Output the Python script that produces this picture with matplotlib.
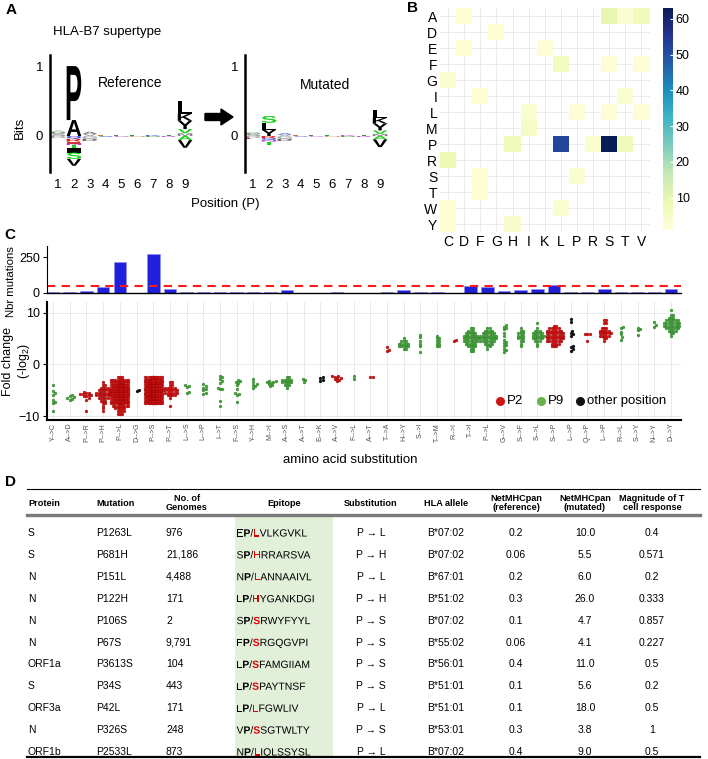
import numpy as np
import matplotlib
matplotlib.use('Agg')
import matplotlib.pyplot as plt
import matplotlib.transforms as mtrans
from matplotlib.textpath import TextPath
from matplotlib.patches import PathPatch, Rectangle, FancyArrow
from matplotlib.font_manager import FontProperties

plt.rcParams['font.family'] = ['Liberation Sans', 'DejaVu Sans']
plt.rcParams['mathtext.fontset'] = 'custom'
plt.rcParams['mathtext.rm'] = 'Liberation Sans'

W, H = 708, 759

# ---------------- panel A: sequence logos (letter, colour, bits) ----------------
logo_pos = list(range(1, 10))
ref_up = [
    [('S', '#8c8c8c', 0.04), ('G', '#3c8c3c', 0.02), ('A', '#b0b0b0', 0.02)],
    [('A', '#000000', 0.23), ('P', '#000000', 0.78)],
    [('V', '#9a9a9a', 0.03), ('A', '#707070', 0.03)],
    [('L', '#c08030', 0.015)], [('L', '#707070', 0.012)], [('E', '#3c8c3c', 0.012)],
    [('K', '#3050c0', 0.012)], [('T', '#3c8c3c', 0.015)],
    [('M', '#888888', 0.04), ('V', '#19d219', 0.06), ('Y', '#000000', 0.12),
     ('K', '#000000', 0.10), ('L', '#000000', 0.18)],
]
ref_down = [
    [('D', '#a0a0a0', 0.03)],
    [('Q', '#2030d0', 0.04), ('R', '#e02020', 0.04), ('E', '#d03030', 0.03), ('N', '#b040c0', 0.02),
     ('T', '#19d219', 0.04), ('I', '#000000', 0.07), ('S', '#19d219', 0.09), ('V', '#000000', 0.10)],
    [('G', '#a0a0a0', 0.04), ('D', '#606060', 0.03)],
    [('S', '#3050c0', 0.012)], [('G', '#b040c0', 0.012)], [('N', '#c08030', 0.01)],
    [('D', '#3c8c3c', 0.012)], [('R', '#b040c0', 0.012)],
    [('A', '#19d219', 0.06), ('V', '#000000', 0.11)],
]
mut_up = [
    [('S', '#8c8c8c', 0.03), ('G', '#3c8c3c', 0.02)],
    [('Y', '#000000', 0.09), ('L', '#000000', 0.10), ('S', '#19d219', 0.10)],
    [('V', '#9a9a9a', 0.02), ('A', '#3050c0', 0.02)],
    [('L', '#c08030', 0.012)], [('L', '#707070', 0.01)], [('E', '#3c8c3c', 0.01)],
    [('K', '#b040c0', 0.012)], [('T', '#3c8c3c', 0.012)],
    [('M', '#888888', 0.03), ('V', '#19d219', 0.05), ('Y', '#000000', 0.10),
     ('K', '#000000', 0.08), ('L', '#000000', 0.12)],
]
mut_down = [
    [('D', '#a0a0a0', 0.03), ('E', '#d03030', 0.01)],
    [('R', '#e02020', 0.03), ('Q', '#2030d0', 0.03), ('N', '#b040c0', 0.02), ('T', '#19d219', 0.05)],
    [('G', '#a0a0a0', 0.04), ('D', '#606060', 0.03)],
    [('S', '#3050c0', 0.01)], [('G', '#b040c0', 0.01)], [('N', '#c08030', 0.01)],
    [('D', '#3c8c3c', 0.012)], [('R', '#b040c0', 0.012)],
    [('A', '#19d219', 0.05), ('V', '#000000', 0.11)],
]

# ---------------- panel B: substitution counts ----------------
heat_from = ['A', 'D', 'E', 'F', 'G', 'I', 'L', 'M', 'P', 'R', 'S', 'T', 'W', 'Y']
heat_to = ['C', 'D', 'F', 'G', 'H', 'I', 'K', 'L', 'P', 'R', 'S', 'T', 'V']
heat_cells = [('A', 'D', 2), ('A', 'S', 10), ('A', 'T', 3), ('A', 'V', 7), ('D', 'G', 2),
              ('E', 'D', 2), ('E', 'K', 2), ('F', 'L', 6), ('F', 'S', 2), ('F', 'V', 2),
              ('G', 'C', 3), ('I', 'F', 2), ('I', 'T', 3), ('L', 'I', 3), ('L', 'P', 2),
              ('L', 'S', 2), ('L', 'V', 2), ('M', 'I', 5), ('P', 'H', 7), ('P', 'L', 52),
              ('P', 'R', 3), ('P', 'S', 63), ('P', 'T', 7), ('R', 'C', 8), ('S', 'F', 2),
              ('S', 'P', 3), ('T', 'F', 2), ('W', 'C', 2), ('W', 'L', 3), ('Y', 'C', 2), ('Y', 'H', 4)]

# ---------------- panel C: substitutions ----------------
subst = ['Y-->C', 'A-->D', 'P-->R', 'P-->H', 'P-->L', 'D-->G', 'P-->S', 'P-->T', 'L-->S', 'L-->P',
         'I-->T', 'F-->S', 'Y-->H', 'M-->I', 'A-->S', 'A-->T', 'E-->K', 'A-->V', 'F-->L', 'A-->T',
         'T-->A', 'H-->Y', 'S-->I', 'T-->M', 'R-->I', 'T-->I', 'P-->L', 'G-->V', 'S-->F', 'S-->L',
         'S-->P', 'L-->P', 'Q-->P', 'L-->P', 'R-->L', 'S-->Y', 'N-->Y', 'D-->Y']
n_mut = [2, 2, 12, 40, 214, 1, 273, 28, 2, 4, 4, 4, 2, 2, 16, 1, 1, 3, 1, 1,
         2, 16, 5, 8, 1, 45, 42, 14, 16, 26, 52, 5, 2, 26, 2, 2, 2, 26]
threshold = 50
dot_group = ['P9', 'P9', 'P2', 'P2', 'P2', 'other', 'P2', 'P2', 'P9', 'P9',
             'P9', 'P9', 'P9', 'P9', 'P9', 'P9', 'other', 'P2', 'P9', 'P2',
             'P2', 'P9', 'P9', 'P9', 'P2', 'P9', 'P9', 'P9', 'P9', 'P9',
             'P2', 'other', 'P2', 'P2', 'P9', 'P9', 'P9', 'P9']
# fold change values as (value, how many peptides)
dot_points = [
    [(-4.0, 1), (-5.2, 1), (-5.6, 1), (-6.0, 1), (-6.8, 1), (-7.2, 1), (-7.5, 1), (-9.0, 1)],
    [(-5.9, 1), (-6.2, 1), (-6.4, 1), (-6.5, 1), (-6.6, 1), (-6.8, 1)],
    [(-5.3, 1), (-5.5, 2), (-5.8, 2), (-6.0, 2), (-6.2, 2), (-6.5, 1), (-6.8, 1), (-9.1, 1)],
    [(-3.5, 1), (-4.0, 2), (-4.5, 4), (-5.0, 6), (-5.5, 7), (-6.0, 7), (-6.5, 5), (-7.0, 3),
     (-7.5, 2), (-8.0, 1), (-8.5, 1), (-9.0, 1)],
    [(-2.5, 3), (-3.0, 10), (-3.5, 16), (-4.0, 20), (-4.5, 22), (-5.0, 24), (-5.5, 24), (-6.0, 22),
     (-6.5, 20), (-7.0, 18), (-7.5, 14), (-8.0, 8), (-8.5, 5), (-9.0, 4), (-9.5, 3)],
    [(-4.9, 1), (-5.1, 1)],
    [(-2.5, 14), (-3.0, 24), (-3.5, 27), (-4.0, 27), (-4.5, 28), (-5.0, 28), (-5.5, 28),
     (-6.0, 28), (-6.5, 27), (-7.0, 25), (-7.5, 17)],
    [(-3.5, 2), (-4.0, 2), (-4.5, 5), (-5.0, 7), (-5.5, 6), (-6.0, 4), (-6.5, 1), (-8.0, 1)],
    [(-3.9, 1), (-4.1, 1), (-4.3, 1), (-5.4, 1), (-5.6, 1)],
    [(-3.8, 1), (-4.2, 1), (-4.5, 1), (-4.8, 1), (-5.0, 1), (-5.6, 1), (-5.8, 1)],
    [(-2.2, 1), (-2.5, 1), (-2.8, 1), (-3.2, 1), (-3.6, 1), (-4.6, 1), (-4.7, 1), (-4.8, 1),
     (-7.0, 1), (-8.0, 1)],
    [(-3.0, 1), (-3.2, 1), (-3.4, 1), (-3.6, 1), (-4.0, 1), (-4.7, 1), (-5.6, 1), (-5.8, 1),
     (-6.0, 1), (-7.2, 1)],
    [(-2.9, 1), (-3.4, 1), (-3.8, 1), (-4.0, 1), (-4.2, 1), (-4.6, 1)],
    [(-3.2, 1), (-3.3, 1), (-3.4, 1), (-3.5, 1), (-3.6, 1), (-3.8, 1), (-4.0, 1), (-4.2, 1)],
    [(-2.5, 2), (-3.0, 5), (-3.5, 5), (-4.0, 3), (-4.5, 1)],
    [(-2.8, 1), (-3.0, 1), (-3.4, 1)],
    [(-2.4, 1), (-2.6, 1), (-3.0, 1), (-3.2, 1)],
    [(-2.2, 1), (-2.3, 1), (-2.4, 1), (-2.6, 1), (-2.7, 1), (-2.9, 1), (-3.0, 1), (-3.2, 1)],
    [(-2.2, 1), (-2.8, 1)],
    [(-2.4, 2)],
    [(2.5, 1), (2.8, 1), (3.4, 1)],
    [(3.0, 2), (3.5, 5), (4.0, 5), (4.5, 3), (5.0, 1)],
    [(2.3, 1), (3.5, 1), (4.0, 1), (4.6, 1), (5.2, 1), (5.7, 1)],
    [(3.5, 2), (4.0, 2), (4.5, 2), (5.0, 2), (5.5, 1)],
    [(4.5, 1), (4.8, 1)],
    [(2.5, 2), (3.0, 2), (3.5, 4), (4.0, 5), (4.5, 7), (5.0, 8), (5.5, 7), (6.0, 5), (6.5, 3), (7.0, 2)],
    [(3.0, 1), (3.5, 2), (4.0, 4), (4.5, 7), (5.0, 8), (5.5, 8), (6.0, 6), (6.5, 4), (7.0, 2)],
    [(2.4, 1), (2.7, 1), (3.0, 1), (3.5, 1), (3.8, 1), (4.2, 1), (4.4, 1), (4.8, 1), (5.5, 1),
     (6.0, 1), (6.8, 1), (7.0, 1), (7.3, 1), (7.7, 1)],
    [(3.5, 1), (4.0, 1), (4.5, 2), (5.0, 3), (5.5, 3), (6.0, 3), (6.5, 2), (7.0, 1)],
    [(3.5, 1), (4.0, 1), (4.5, 3), (5.0, 5), (5.5, 6), (6.0, 5), (6.5, 3), (7.0, 1), (8.0, 1)],
    [(3.5, 3), (4.0, 4), (4.5, 7), (5.0, 8), (5.5, 8), (6.0, 8), (6.5, 7), (7.0, 5), (7.5, 2)],
    [(2.6, 1), (2.9, 1), (3.3, 1), (3.6, 1), (5.5, 1), (5.8, 1), (6.1, 1), (6.5, 1), (8.2, 1), (8.8, 1)],
    [(4.5, 1), (5.8, 3)],
    [(4.5, 1), (5.0, 2), (5.5, 5), (6.0, 6), (6.5, 5), (7.0, 3), (8.0, 2), (8.5, 2)],
    [(4.8, 1), (5.2, 1), (5.8, 1), (6.3, 1), (7.1, 1), (7.3, 1)],
    [(5.6, 1), (6.6, 1), (6.9, 1), (7.1, 1)],
    [(7.3, 1), (7.7, 1), (8.1, 1)],
    [(5.5, 1), (6.0, 2), (6.5, 4), (7.0, 6), (7.5, 8), (8.0, 8), (8.5, 6), (9.0, 3), (9.5, 2), (10.5, 1)],
]
group_colors = {'P2': ('#d01515', '#8a0000'), 'P9': ('#46a33c', '#216e21'), 'other': ('#111111', '#000000')}
legend_labels = ['P2', 'P9', 'other position']
legend_colors = ['#d01515', '#6ab04c', '#111111']

# ---------------- panel D: table ----------------
proteins = ['S', 'S', 'N', 'N', 'N', 'N', 'ORF1a', 'S', 'ORF3a', 'N', 'ORF1b']
mutations = ['P1263L', 'P681H', 'P151L', 'P122H', 'P106S', 'P67S', 'P3613S', 'P34S', 'P42L', 'P326S', 'P2533L']
genomes = ['976', '21,186', '4,488', '171', '2', '9,791', '104', '443', '171', '248', '873']
epitopes = ['EP/LVLKGVKL', 'SP/HRRARSVA', 'NP/LANNAAIVL', 'LP/HYGANKDGI', 'SP/SRWYFYYL', 'FP/SRGQGVPI',
            'LP/SFAMGIIAM', 'LP/SPAYTNSF', 'LP/LFGWLIV', 'VP/SSGTWLTY', 'NP/LIQLSSYSL']
substitutions = ['P \u2192 L', 'P \u2192 H', 'P \u2192 L', 'P \u2192 H', 'P \u2192 S', 'P \u2192 S',
                 'P \u2192 S', 'P \u2192 S', 'P \u2192 L', 'P \u2192 S', 'P \u2192 L']
hla = ['B*07:02', 'B*07:02', 'B*67:01', 'B*51:02', 'B*07:02', 'B*55:02', 'B*56:01', 'B*51:01',
       'B*51:01', 'B*53:01', 'B*07:02']
net_ref = ['0.2', '0.06', '0.2', '0.3', '0.1', '0.06', '0.4', '0.1', '0.1', '0.3', '0.4']
net_mut = ['10.0', '5.5', '6.0', '26.0', '4.7', '4.1', '11.0', '5.6', '18.0', '3.8', '9.0']
magnitude = ['0.4', '0.571', '0.2', '0.333', '0.857', '0.227', '0.5', '0.2', '0.5', '1', '0.5']
headers = ['Protein', 'Mutation', 'No. of\nGenomes', 'Epitope', 'Substitution', 'HLA allele',
           'NetMHCpan\n(reference)', 'NetMHCpan\n(mutated)', 'Magnitude of T\ncell response']

LOGO_FONT = FontProperties(family='Liberation Sans', weight='bold')


def px_axes(fig, x0, y0, x1, y1):
    '''axes placed by pixel box (top-left origin)'''
    return fig.add_axes([x0 / W, 1 - y1 / H, (x1 - x0) / W, (y1 - y0) / H])


def draw_stack(ax, x, letters, sign):
    base = 0.0
    for ch, col, h in letters:
        tp = TextPath((0, 0), ch, size=1, prop=LOGO_FONT)
        bb = tp.get_extents()
        y0 = base if sign > 0 else base - h
        tr = (mtrans.Affine2D().translate(-bb.x0, -bb.y0)
              .scale(0.92 / bb.width, h / bb.height).translate(x - 0.46, y0))
        ax.add_patch(PathPatch(tr.transform_path(tp), fc=col, ec='none', lw=0))
        base = y0 + h if sign > 0 else y0


def logo_axes(fig, x0, up, down):
    ax = px_axes(fig, x0, 55, x0 + 143, 172)
    for p, u, d in zip(logo_pos, up, down):
        draw_stack(ax, p, u, 1)
        draw_stack(ax, p, d, -1)
    ax.set_xlim(0.49, 9.5)
    ax.set_ylim(-0.52, 1.17)
    for s in ['top', 'right', 'bottom']:
        ax.spines[s].set_visible(False)
    ax.spines['left'].set_linewidth(1.8)
    ax.set_xticks(logo_pos)
    ax.set_yticks([0, 1])
    ax.tick_params(length=0, labelsize=9.5)
    ax.tick_params(axis='x', pad=5)
    ax.tick_params(axis='y', pad=5)
    ax.patch.set_alpha(0)
    return ax


def swarm_offsets(values, diam=2.3, maxw_px=8.5, xpx=16.7, ypx=5.17):
    ys = np.sort(np.asarray(values, float)) * ypx
    step = diam / 3.0
    cands = [0.0]
    for k in range(1, int(maxw_px / step) + 1):
        cands += [k * step, -k * step]
    cands = np.array(cands)
    px, py = [], []
    for y in ys:
        c = 0.0
        if px:
            ax_, ay_ = np.array(px), np.array(py)
            m = np.abs(ay_ - y) < diam
            if m.any():
                nx, ny = ax_[m], ay_[m]
                d = np.sqrt((cands[:, None] - nx[None, :]) ** 2 + (y - ny[None, :]) ** 2).min(axis=1)
                ok = np.where(d >= diam)[0]
                c = cands[ok[0]] if len(ok) else cands[np.argmax(d)]
        px.append(c)
        py.append(y)
    return np.array(px) / xpx, ys / ypx


def glyph_text(ax, x, y, s, size_px, weight, color):
    '''draw s as outlines, origin on baseline at (x, y) of the pixel axes; returns the next origin'''
    prop = FontProperties(family='Liberation Sans', weight=weight)
    tp = TextPath((0, 0), s, size=size_px, prop=prop)
    tr = mtrans.Affine2D().scale(1, -1).translate(x, y)
    ax.add_patch(PathPatch(tr.transform_path(tp), fc=color, ec='none', lw=0))
    # advance of s = right ink edge of s+'H' minus that of 'H'
    adv = (TextPath((0, 0), s + 'H', size=size_px, prop=prop).get_extents().x1
           - TextPath((0, 0), 'H', size=size_px, prop=prop).get_extents().x1)
    return x + adv


def main():
    fig = plt.figure(figsize=(W / 100, H / 100), dpi=100)

    # ---- A ----
    logo_axes(fig, 50, ref_up, ref_down)
    logo_axes(fig, 245, mut_up, mut_down)

    # ---- B ----
    axh = px_axes(fig, 440, 8, 649.5, 232)
    grid = np.full((len(heat_from), len(heat_to)), np.nan)
    for r, c, v in heat_cells:
        grid[heat_from.index(r), heat_to.index(c)] = v
    mesh = axh.pcolormesh(np.arange(len(heat_to) + 1) - 0.5, np.arange(len(heat_from) + 1) - 0.5,
                          np.ma.masked_invalid(grid), cmap='YlGnBu', vmin=1, vmax=63, zorder=2)
    axh.set_xlim(-0.5, len(heat_to) - 0.5)
    axh.set_ylim(len(heat_from) - 0.5, -0.5)
    axh.set_xticks(range(len(heat_to)))
    axh.set_xticklabels(heat_to)
    axh.set_yticks(range(len(heat_from)))
    axh.set_yticklabels(heat_from)
    axh.tick_params(length=0, labelsize=10, pad=2)
    axh.grid(color='#ebebeb', lw=0.7, zorder=0)
    axh.set_axisbelow(True)
    for s in axh.spines.values():
        s.set_visible(False)
    cax = px_axes(fig, 663, 8, 673, 230)
    cb = fig.colorbar(mesh, cax=cax)
    cb.outline.set_visible(False)
    cb.set_ticks([10, 20, 30, 40, 50, 60])
    cax.tick_params(labelsize=9, length=2.5, color='white', direction='in', pad=2)

    # ---- C bars ----
    x = np.arange(len(subst))
    axb = px_axes(fig, 46.7, 246, 681, 292.7)
    axb.bar(x, n_mut, width=0.76, color='#2020dc', edgecolor='#9090f0', lw=0.5)
    axb.axhline(threshold, color='#ff1a1a', ls=(0, (4, 3)), lw=1.5)
    axb.set_xlim(-0.38, len(subst) - 0.4)
    axb.set_ylim(0, 330)
    axb.set_xticks([])
    axb.set_yticks([0, 250])
    axb.tick_params(labelsize=9, length=3, pad=2)
    for s in ['top', 'right']:
        axb.spines[s].set_visible(False)
    axb.spines['left'].set_linewidth(0.8)
    axb.spines['bottom'].set_linewidth(1.0)

    # ---- C dots ----
    axd = px_axes(fig, 46.7, 302, 681, 420)
    for i, pts in enumerate(dot_points):
        vals = [v for v, c in pts for _ in range(c)]
        offs, ys = swarm_offsets(vals)
        fc, ec = group_colors[dot_group[i]]
        axd.scatter(i + offs, ys, s=4.5, c=fc, edgecolors=ec, linewidths=0.2, zorder=3)
    axd.set_xlim(-0.38, len(subst) - 0.4)
    axd.set_ylim(-10.75, 12.05)
    axd.set_yticks([-10, 0, 10])
    axd.set_xticks(x)
    axd.set_xticklabels(subst, rotation=90, fontsize=5, color='#4d4d4d')
    axd.tick_params(axis='x', length=0, pad=2)
    axd.tick_params(axis='y', labelsize=9, length=3, pad=2)
    axd.grid(color='#e6e6e6', lw=0.6)
    axd.set_axisbelow(True)
    for s in ['top', 'right']:
        axd.spines[s].set_visible(False)
    axd.spines['left'].set_linewidth(1.5)
    axd.spines['bottom'].set_linewidth(1.5)

    # ---- overlay in pixel coordinates: labels, arrow, legend, table ----
    ov = fig.add_axes([0, 0, 1, 1], zorder=10)
    ov.set_xlim(0, W)
    ov.set_ylim(H, 0)
    ov.axis('off')
    for lab, lx, ly in [('A', 11, 10), ('B', 412, 8), ('C', 10, 235), ('D', 11, 482)]:
        ov.text(lx, ly, lab, fontsize=11, fontweight='bold', ha='center', va='center')
    ov.text(53, 32, 'HLA-B7 supertype', fontsize=9.5, va='center')
    ov.text(98, 83, 'Reference', fontsize=10, va='center')
    ov.text(300, 85, 'Mutated', fontsize=10, va='center')
    ov.text(20, 128, 'Bits', fontsize=9.5, rotation=90, ha='center', va='center')
    ov.text(225, 204, 'Position (P)', fontsize=9.5, ha='center', va='center')
    ov.add_patch(FancyArrow(205, 117, 28, 0, width=7, head_width=16, head_length=12,
                            length_includes_head=True, color='black'))
    ov.text(11, 282, 'Nbr mutations', fontsize=8.2, rotation=90, ha='center', va='center')
    ov.text(17, 361, 'Fold change\n(-log$_2$)', fontsize=9, rotation=90, ha='center', va='center',
            multialignment='center', linespacing=1.1)
    ov.text(350, 460, 'amino acid substitution', fontsize=9.5, ha='center', va='center')
    for lab, lx, col in zip(legend_labels, [500, 541, 580], legend_colors):
        ov.plot(lx, 401, 'o', ms=6.5, color=col, mec='none')
        ov.text(lx + 7, 401, lab, fontsize=9.5, va='center')

    # table
    fs = 7.5
    ov.add_patch(Rectangle((235, 517), 98, 240, fc='#e2efd9', ec='none', zorder=0))
    ov.plot([27, 700], [489, 489], color='black', lw=0.8)
    ov.plot([27, 700], [515, 515], color='#7a7a7a', lw=2.4)
    ov.plot([27, 700], [757, 757], color='black', lw=1.6)
    hx = [28, 96, 166, 284, 371, 446, 516, 585, 652]
    ha = ['left', 'left', 'left', 'center', 'center', 'center', 'center', 'center', 'center']
    for t, hxx, a in zip(headers, hx, ha):
        ov.text(hxx, 503, t, fontsize=6.6, fontweight='bold', ha=a, va='center',
                multialignment='center', linespacing=1.0)
    size_px = fs * 100 / 72.0
    for i in range(len(proteins)):
        y = 533 + i * 21.9
        cols = [(proteins[i], 28, 'left'), (mutations[i], 96, 'left'), (genomes[i], 166, 'left'),
                (substitutions[i], 371, 'center'), (hla[i], 446, 'center'),
                (net_ref[i], 516, 'center'), (net_mut[i], 585, 'center'), (magnitude[i], 652, 'center')]
        for t, cx, a in cols:
            ov.text(cx, y + 3, t, fontsize=fs, ha=a, va='baseline')
        # epitope: anchor P in bold, mutated residue bold red
        ep = epitopes[i]
        ex = 236.5
        ex = glyph_text(ov, ex, y + 3.5, ep[0], size_px, 'normal', 'black')
        ex = glyph_text(ov, ex, y + 3.5, ep[1], size_px, 'bold', 'black')
        ex = glyph_text(ov, ex, y + 3.5, ep[2], size_px, 'normal', 'black')
        ex = glyph_text(ov, ex, y + 3.5, ep[3], size_px, 'bold', '#e00000')
        glyph_text(ov, ex, y + 3.5, ep[4:], size_px, 'normal', 'black')

    fig.savefig('out.png', dpi=100)


if __name__ == '__main__':
    main()
